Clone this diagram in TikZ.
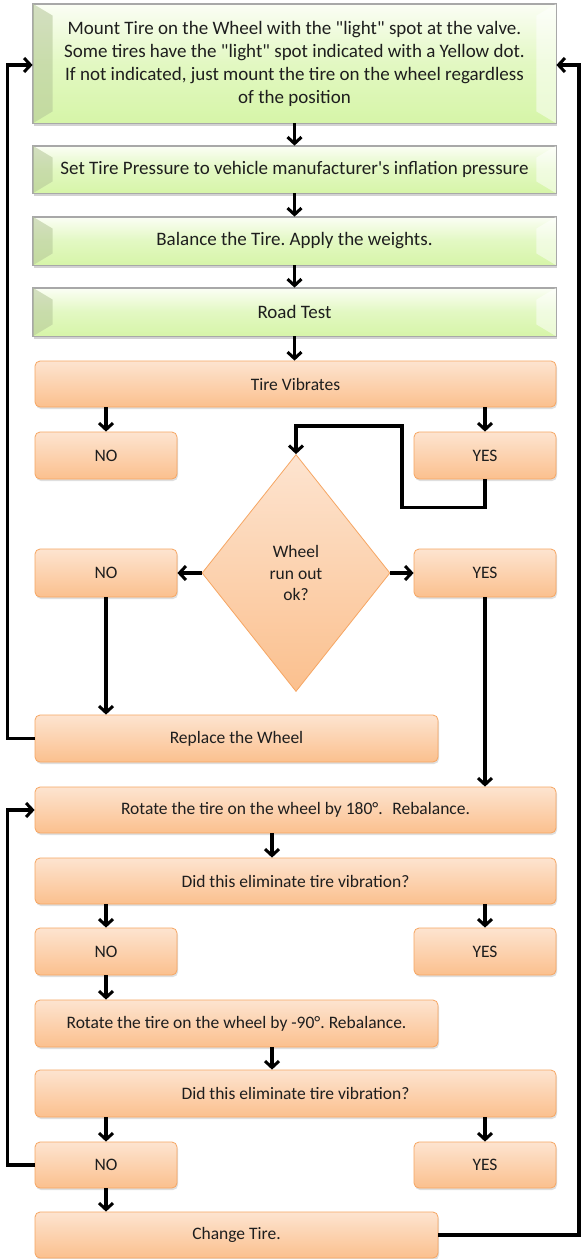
\documentclass[tikz,border=0pt]{standalone}
\usepackage{fontspec}
\setmainfont{Carlito}
\newfontfamily\calib{Carlito}
\usetikzlibrary{arrows.meta,shapes.geometric,shadows}
\definecolor{gtop}{HTML}{FBFEF5}
\definecolor{gbot}{HTML}{D6F5A8}
\definecolor{gborder}{HTML}{A8A8A8}
\definecolor{otop}{HTML}{FDE4D0}
\definecolor{obot}{HTML}{FBC08E}
\definecolor{oborder}{HTML}{F6A663}
\definecolor{txt}{HTML}{1E1E1E}
\frenchspacing
\tikzset{
  gbox/.style={draw=gborder, line width=0.8pt, top color=gtop, bottom color=gbot, middle color=gbot!70!white,
    inner sep=0pt, align=center, text=txt, font=\calib\fontsize{19}{23}\selectfont,
    drop shadow={opacity=0.35, shadow xshift=1pt, shadow yshift=-2.5pt}},
  obox/.style={draw=oborder, line width=0.8pt, top color=otop, bottom color=obot, rounded corners=5pt,
    inner sep=0pt, align=center, text=txt, font=\calib\fontsize{17.5}{21}\selectfont,
    drop shadow={opacity=0.25, shadow xshift=1pt, shadow yshift=-2pt}},
  arr/.style={line width=3.2pt, -{Straight Barb[length=6.5pt,width=14pt,line width=3pt]}},
}
\begin{document}
\begin{tikzpicture}[x=1pt,y=-1pt]
\useasboundingbox[fill=white] (0,0) rectangle (582,1259);
% green boxes
\node[gbox, minimum width=523pt, minimum height=119pt] (mount) at (294.5,63.5)
  {Mount Tire on the Wheel with the "light" spot at the valve.\\
   Some tires have the "light" spot indicated with a Yellow dot.\\
   If not indicated, just mount the tire on the wheel regardless\\
   of the position};
\node[gbox, minimum width=523pt, minimum height=47pt] (press) at (294.5,169.5)
  {Set Tire Pressure to vehicle manufacturer's inflation pressure};
\node[gbox, minimum width=523pt, minimum height=48pt] (bal) at (294.5,241)
  {Balance the Tire. Apply the weights.};
\node[gbox, minimum width=523pt, minimum height=48pt] (road) at (294.5,312)
  {Road Test};
% bevels on green boxes
\foreach \n in {mount,press,bal,road}{
  \fill[gray!40!gbot, opacity=0.55] (\n.north west) -- ([xshift=20pt,yshift=-12pt]\n.north west) -- ([xshift=20pt,yshift=12pt]\n.south west) -- (\n.south west) -- cycle;
  \fill[white, opacity=0.5] (\n.north east) -- ([xshift=-20pt,yshift=-12pt]\n.north east) -- ([xshift=-20pt,yshift=12pt]\n.south east) -- (\n.south east) -- cycle;
  \draw[gborder, line width=0.8pt] (\n.north west) rectangle (\n.south east);
}
% orange boxes
\node[obox, minimum width=521pt, minimum height=46pt] (vib) at (295.5,384) {Tire Vibrates};
\node[obox, minimum width=142pt, minimum height=47pt] (no1) at (106,455.5) {NO};
\node[obox, minimum width=142pt, minimum height=47pt] (yes1) at (485,455.5) {YES};
\node[shape=diamond, draw=oborder, line width=0.8pt, top color=otop, bottom color=obot, inner sep=0pt,
  minimum width=188pt, minimum height=237pt, align=center, text=txt, font=\calib\fontsize{17.5}{21.5}\selectfont] (dia) at (296,573)
  {Wheel\\run out\\ok?};
\node[obox, minimum width=142pt, minimum height=48pt] (no2) at (106,573) {NO};
\node[obox, minimum width=142pt, minimum height=48pt] (yes2) at (485,573) {YES};
\node[obox, minimum width=403pt, minimum height=47pt] (repl) at (236.5,738.5) {Replace the Wheel};
\node[obox, minimum width=521pt, minimum height=46pt] (rot1) at (295.5,810) {Rotate the tire on the wheel by 180°.\hspace{0.55em}Rebalance.};
\node[obox, minimum width=521pt, minimum height=46pt] (did1) at (295.5,881) {Did this eliminate tire vibration?};
\node[obox, minimum width=142pt, minimum height=47pt] (no3) at (106,951.5) {NO};
\node[obox, minimum width=142pt, minimum height=47pt] (yes3) at (485,951.5) {YES};
\node[obox, minimum width=403pt, minimum height=47pt] (rot2) at (236.5,1023.5) {Rotate the tire on the wheel by -90°. Rebalance.};
\node[obox, minimum width=521pt, minimum height=47pt] (did2) at (295.5,1093.5) {Did this eliminate tire vibration?};
\node[obox, minimum width=142pt, minimum height=46pt] (no4) at (106,1165) {NO};
\node[obox, minimum width=142pt, minimum height=46pt] (yes4) at (485,1165) {YES};
\node[obox, minimum width=403pt, minimum height=46pt] (chg) at (236.5,1235) {Change Tire.};
% connectors
\draw[arr] (mount.south) -- (press.north);
\draw[arr] (press.south) -- (bal.north);
\draw[arr] (bal.south) -- (road.north);
\draw[arr] (road.south) -- (road.south |- vib.north);
\draw[arr] (no1.north |- vib.south) -- (no1.north);
\draw[arr] (yes1.north |- vib.south) -- (yes1.north);
\coordinate (k1) at (402,426);
\draw[arr] (yes1.south) -- ++(0,28) -| (k1) -| (dia.north);
\draw[arr] (dia.west) -- (no2.east);
\draw[arr] (dia.east) -- (yes2.west);
\draw[arr] (no2.south) -- (no2.south |- repl.north);
\draw[arr] (repl.west) -- ++(-27,0) |- ([yshift=-1.5pt]mount.west);
\draw[arr] (yes2.south) -- (yes2.south |- rot1.north);
\draw[arr] ([xshift=-23.5pt]rot1.south) -- ([xshift=-23.5pt]rot1.south |- did1.north);
\draw[arr] (no3.north |- did1.south) -- (no3.north);
\draw[arr] (yes3.north |- did1.south) -- (yes3.north);
\draw[arr] (no3.south) -- (no3.south |- rot2.north);
\draw[arr] ([xshift=35.5pt]rot2.south) -- ([xshift=35.5pt]rot2.south |- did2.north);
\draw[arr] (no4.north |- did2.south) -- (no4.north);
\draw[arr] (yes4.north |- did2.south) -- (yes4.north);
\draw[arr] (no4.west) -- ++(-27,0) |- (rot1.west);
\draw[arr] (no4.south) -- (no4.south |- chg.north);
\coordinate (rt) at (579,1235);
\draw[arr] (chg.east) -- (rt) |- ([yshift=-1.5pt]mount.east);
\end{tikzpicture}
\end{document}
